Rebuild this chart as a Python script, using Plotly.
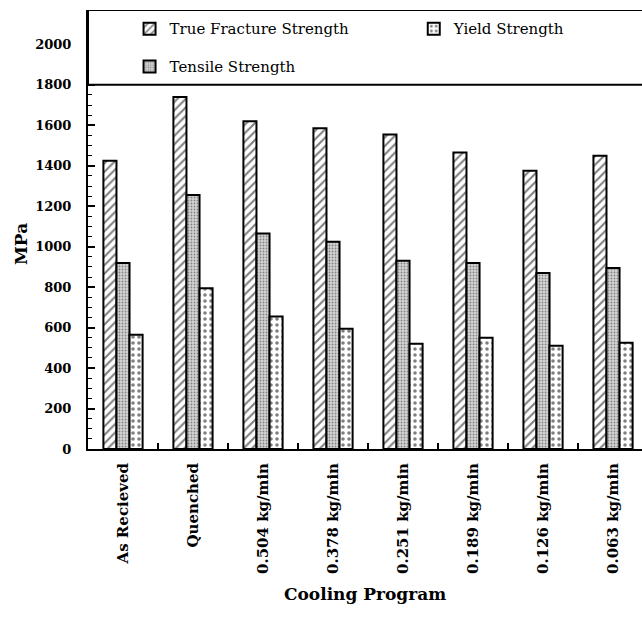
import plotly.graph_objects as go

categories = ["As Recieved", "Quenched", "0.504 kg/min", "0.378 kg/min",
              "0.251 kg/min", "0.189 kg/min", "0.126 kg/min", "0.063 kg/min"]
true_fracture = [1425, 1740, 1620, 1585, 1555, 1465, 1375, 1450]
tensile = [920, 1255, 1065, 1025, 930, 920, 870, 895]
yield_strength = [565, 795, 655, 595, 520, 550, 510, 525]
ytick_vals = [0, 200, 400, 600, 800, 1000, 1200, 1400, 1600, 1800, 2000]

SERIF = "DejaVu Serif"
YTOP = 2170

fig = go.Figure()
fig.add_trace(go.Bar(
    x=categories, y=true_fracture, name="True Fracture Strength", legend="legend",
    marker=dict(color="white", line=dict(color="black", width=2),
                pattern=dict(shape="/", fgcolor="black", bgcolor="white", size=6, solidity=0.35)),
))
fig.add_trace(go.Bar(
    x=categories, y=tensile, name="Tensile Strength", legend="legend2",
    marker=dict(color="white", line=dict(color="black", width=2),
                pattern=dict(shape=".", fgcolor="#333333", bgcolor="#d4d4d4", size=3, solidity=0.3)),
))
fig.add_trace(go.Bar(
    x=categories, y=yield_strength, name="Yield Strength", legend="legend3",
    marker=dict(color="white", line=dict(color="black", width=2),
                pattern=dict(shape=".", fgcolor="black", bgcolor="white", size=6, solidity=0.28)),
))

legend_common = dict(font=dict(family=SERIF, size=15, color="black"),
                     bgcolor="rgba(0,0,0,0)", borderwidth=0,
                     xanchor="left", yanchor="middle")

fig.update_layout(
    width=642, height=618,
    margin=dict(l=88, r=0, t=10, b=169),
    paper_bgcolor="white", plot_bgcolor="white",
    barmode="group", bargap=0.44, bargroupgap=0,
    font=dict(family=SERIF, color="black"),
    showlegend=True,
    legend=dict(x=0.075, y=0.957, **legend_common),
    legend2=dict(x=0.075, y=0.871, **legend_common),
    legend3=dict(x=0.588, y=0.957, **legend_common),
    xaxis=dict(
        type="category", range=[-0.5, 7.414],
        showline=True, linecolor="black", linewidth=2,
        ticks="inside", tickson="boundaries", ticklen=6, tickwidth=1.5, tickcolor="black",
        tickangle=-90, ticklabelstandoff=6,
        tickfont=dict(family=SERIF, size=15, color="black", weight="bold"),
        showgrid=False, zeroline=False,
    ),
    yaxis=dict(
        range=[0, YTOP], tickvals=ytick_vals,
        showline=True, linecolor="black", linewidth=2,
        ticks="inside", ticklen=7, tickwidth=1.5, tickcolor="black",
        minor=dict(dtick=50, ticks="inside", ticklen=3.5, tickwidth=1, tickcolor="black"),
        ticklabelstandoff=12,
        tickfont=dict(family=SERIF, size=13, color="black", weight="bold"),
        showgrid=False, zeroline=False,
    ),
    shapes=[dict(type="rect", xref="paper", yref="y", x0=0, x1=1.02, y0=1800, y1=YTOP,
                 fillcolor="white", line=dict(color="black", width=2), layer="above")],
    annotations=[
        dict(text="<b>MPa</b>", xref="paper", yref="paper", x=-0.121, y=0.467,
             xanchor="center", yanchor="middle",
             textangle=-90, showarrow=False, font=dict(family=SERIF, size=17, color="black")),
        dict(text="<b>Cooling Program</b>", xref="paper", yref="paper", x=0.5, y=-0.331,
             xanchor="center", yanchor="middle",
             showarrow=False, font=dict(family=SERIF, size=17, color="black")),
    ],
)

fig.write_html("out.html")
